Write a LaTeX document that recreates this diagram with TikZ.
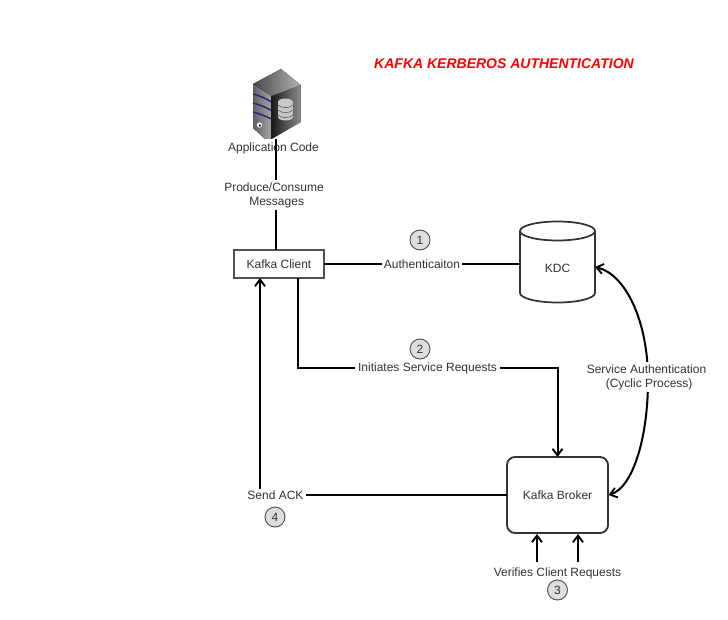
\documentclass[tikz,border=0pt]{standalone}
\usepackage{fontspec}
\setmainfont{Liberation Sans}
\usetikzlibrary{arrows.meta,calc}
\definecolor{txt}{HTML}{333333}
\definecolor{bord}{HTML}{333333}
\tikzset{
  x=0.75pt,y=-0.75pt,
  every node/.style={font=\fontsize{9}{10.5}\selectfont,text=txt,inner sep=0pt,outer sep=0pt},
  conn/.style={draw=black,line width=1.5pt,line join=miter},
  tip/.style={-{Straight Barb[length=5pt,width=7.5pt,line width=1.4pt]}},
  bothtip/.style={{Straight Barb[length=5pt,width=7.5pt,line width=1.4pt]}-{Straight Barb[length=5pt,width=7.5pt,line width=1.4pt]}},
  lab/.style={fill=white,align=center,inner sep=1.5pt},
  badge/.style={circle,draw=black!65,fill=black!13,line width=0.75pt,minimum size=15pt},
  clientbox/.style={draw=bord!85,line width=0.8pt,fill=white,minimum width=67.5pt,minimum height=21pt},
  brokerbox/.style={draw=bord,line width=1.4pt,fill=white,rounded corners=6pt,minimum width=75.75pt,minimum height=57pt},
  kdcbox/.style={minimum width=56.25pt,minimum height=61.5pt},
}
\begin{document}
\begin{tikzpicture}
\useasboundingbox (0,0) rectangle (728,620);
\fill[white] (0,0) rectangle (728,620);

% server icon
\coordinate (srv) at (275.5,139);
\fill[left color=black!62,right color=black!35] (253,84) -- (271.5,96) -- (271.5,139) -- (265,139) -- (253,128) -- cycle;
\fill[left color=black!90,right color=black!45] (271.5,96) -- (300.7,85) -- (300.7,122) -- (271.5,139) -- cycle;
\fill[left color=black!72,right color=black!30] (253,84) -- (281,69) -- (300.7,85) -- (271.5,96) -- cycle;
\foreach \a/\b in {94/102,103/110.5,112/119}{
  \draw[draw=blue!40!black!85,line width=1.1pt] (253,\a) .. controls (259,{\a+1.5}) and (265,{\a+4}) .. (271.5,\b);
}
\fill[white] (259.5,125) circle (2.6);
\fill[blue!40!black] (259.8,125.5) circle (1.3);
\fill[black!22] (278,102) rectangle (293,117);
\fill[black!22] (285.5,102) ellipse (7.5 and 3.5);
\fill[black!22] (285.5,117) ellipse (7.5 and 3.5);
\foreach \d in {105,110,115}{\draw[black!60,line width=0.5pt] (278,\d) .. controls (281,{\d+3.5}) and (290,{\d+3.5}) .. (293,\d);}

% boxes
\node[clientbox] (client) at (279,264) {Kafka Client};
\node[brokerbox] (broker) at (557.5,495) {Kafka Broker};
\node[kdcbox] (kdc) at (557.5,262) {};
\draw[bord,line width=1.3pt,fill=white] (kdc.north west) ++(0,10)
   arc[start angle=180,end angle=0,x radius=37.5,y radius=-9.5]
   -- ($(kdc.south east)+(0,-10)$)
   arc[start angle=0,end angle=-180,x radius=37.5,y radius=-9.5] -- cycle;
\draw[bord,line width=1.3pt] ($(kdc.north west)+(0,10)$)
   arc[start angle=180,end angle=360,x radius=37.5,y radius=-9.5];
\node at (557.5,268) {KDC};

% helper coordinates
\coordinate (c1) at (298,278);
\coordinate (c2) at (298,368);
\coordinate (c3) at (557.5,368);
\coordinate (ack) at (260,495);
\coordinate (ackup) at (260,278);
\coordinate (k1) at (595,267);
\coordinate (v1) at (537,562);
\coordinate (v1t) at (537,534);
\coordinate (v2) at (578,562);
\coordinate (v2t) at (578,534);
\coordinate (b1) at (608.5,495);

% connectors
\draw[conn] (srv) -- (275.5,250);
\draw[conn] (client.east) -- (kdc.west |- client.east);
\draw[conn,tip] (c1) -- (c2) -- (c3) -- (broker.north);
\draw[conn] (broker.west) -- (ack);
\draw[conn,tip] (ack) -- (ackup);
\draw[conn,tip] (v1) -- (v1t);
\draw[draw=black,line width=1.2pt,tip] (v2) -- (v2t);
\draw[conn,bothtip] (k1) .. controls (625,274) and (648,320) .. (648,380)
   .. controls (648,440) and (632,488) .. (b1);

% labels
\node at (273.5,148) {Application Code};
\node[lab] at (274,195) {Produce/Consume\\\hspace*{4pt}Messages};
\node[badge] (n1) at (420,240) {1};
\node[lab] at (422,264.5) {Authenticaiton};
\node[badge] (n2) at (420,349) {2};
\node[lab,inner sep=2pt] at (427.5,368) {Initiates Service Requests};
\node[lab] at (646.5,377) {Service Authentication\\\hspace*{4pt}(Cyclic Process)};
\node[lab] at (275.5,495.5) {Send ACK};
\node[badge] (n4) at (275,517) {4};
\node[lab] at (557.5,573.5) {Verifies Client Requests};
\node[badge] (n3) at (557.5,590) {3};
\node[text=red,font=\fontsize{10.5}{12}\selectfont\bfseries\itshape] at (504,64) {KAFKA KERBEROS AUTHENTICATION};
\end{tikzpicture}
\end{document}
